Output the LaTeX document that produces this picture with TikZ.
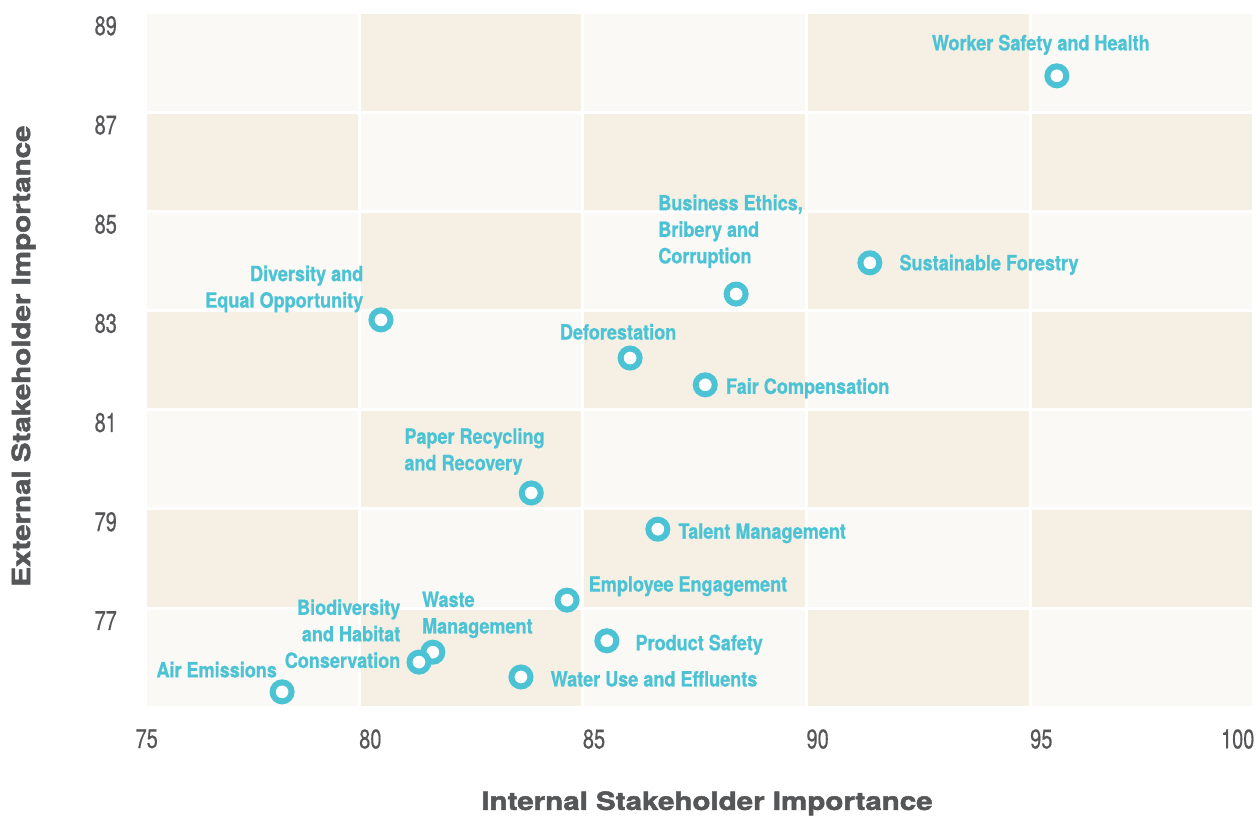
\documentclass[tikz,border=0pt]{standalone}
\usepackage{fontspec}
\setmainfont{TeX Gyre Heros}
\newfontfamily\numfont{TeX Gyre Heros}[FakeStretch=0.74, FakeBold=0.4]
\newfontfamily\tagfont{TeX Gyre Heros}[FakeStretch=0.86, BoldFeatures={FakeBold=0.8}]
\newfontfamily\titlefont{TeX Gyre Heros}[FakeStretch=1.18, BoldFeatures={FakeBold=2}]
\usetikzlibrary{positioning}
\definecolor{sand}{RGB}{245,239,228}
\definecolor{paper}{RGB}{250,249,245}
\definecolor{dotcyan}{RGB}{76,195,213}
\definecolor{axisgrey}{RGB}{85,86,88}

\begin{document}
\begin{tikzpicture}[x=44.73pt, y=49.6pt]

    % styles
    \tikzstyle{issue} = [circle, draw=dotcyan, fill=white, line width=6pt, minimum size=19pt, inner sep=0pt]
    \tikzstyle{issuetext} = [text=dotcyan, font=\tagfont\bfseries\fontsize{21}{26.5}\selectfont, inner sep=0pt, text depth=0pt]
    \tikzstyle{ticknum} = [text=axisgrey, font=\numfont\fontsize{27}{30}\selectfont, inner sep=0pt]
    \tikzstyle{axistitle} = [text=axisgrey, font=\titlefont\bfseries\fontsize{25}{30}\selectfont, inner sep=0pt]

    % page
    \fill [white] (71.974,72.728) rectangle (100.143,89.26);
    \useasboundingbox (71.974,72.728) rectangle (100.143,89.26);

    % checkered plot area
    \begin{scope}
        \clip (75.26,75.04) rectangle (100.02,89);
        \foreach \i in {0,...,4}
            \foreach \j in {0,...,6} {
                \pgfmathtruncatemacro{\odd}{mod(\i+\j,2)}
                \ifnum\odd=1 \def\cellcol{sand}\else \def\cellcol{paper}\fi
                \filldraw [fill=\cellcol, draw=white, line width=3pt]
                    (75+5*\i,75+2*\j) rectangle (80+5*\i,77+2*\j);
            }
    \end{scope}

    % axis numbers
    \foreach \v in {77,79,...,89}
        \node (y\v) [ticknum, anchor=north east, yshift=-3pt] at (74.59,\v) {\v};
    \foreach \v in {75,80,...,95}
        \node (x\v) [ticknum, anchor=north west] at (\v,74.56) {\v};
    \node (x100) [ticknum, anchor=north east] at (100.02,74.56) {100};

    % axis titles
    \node (xtitle) [axistitle, anchor=base] at (87.78,72.93) {Internal Stakeholder Importance};
    \node (ytitle) [axistitle, rotate=90, anchor=base] at (72.645,82.08) {External Stakeholder Importance};

    % issues
    \node (ws) [issue] at (95.60,87.73) {};
    \node (sf) [issue] at (91.42,83.96) {};
    \node (be) [issue] at (88.43,83.33) {};
    \node (dv) [issue] at (80.49,82.81) {};
    \node (df) [issue] at (86.06,82.04) {};
    \node (fc) [issue] at (87.74,81.50) {};
    \node (pr) [issue] at (83.85,79.32) {};
    \node (tm) [issue] at (86.68,78.59) {};
    \node (ee) [issue] at (84.65,77.16) {};
    \node (ps) [issue] at (85.54,76.34) {};
    \node (wu) [issue] at (83.62,75.61) {};
    \node (wm) [issue] at (81.65,76.11) {};
    \node (bd) [issue] at (81.34,75.91) {};
    \node (ae) [issue] at (78.28,75.31) {};

    % issue names
    \node (wsl) [issuetext, above=13pt of ws, anchor=base, xshift=-16pt] {Worker Safety and Health};
    \node (sfl) [issuetext, right=17pt of sf, anchor=base west, yshift=-7.5pt] {Sustainable Forestry};
    \node (bel) [issuetext, align=left, above=18pt of be, anchor=south west, xshift=-78pt] {Business Ethics,\\Bribery and\\Corruption};
    \node (dvl) [issuetext, align=right, left=5pt of dv, anchor=south east, yshift=12pt] {Diversity and\\Equal Opportunity};
    \node (dfl) [issuetext, above=6pt of df, anchor=base, xshift=-12pt] {Deforestation};
    \node (fcl) [issuetext, right=8pt of fc, anchor=base west, yshift=-9pt] {Fair Compensation};
    \node (prl) [issuetext, align=left, above=10pt of pr, anchor=south west, xshift=-127pt] {Paper Recycling\\and Recovery};
    \node (tml) [issuetext, right=8pt of tm, anchor=base west, yshift=-9.5pt] {Talent Management};
    \node (eel) [issuetext, right=9pt of ee, anchor=base west, yshift=8.5pt] {Employee Engagement};
    \node (psl) [issuetext, right=16pt of ps, anchor=base west, yshift=-9.5pt] {Product Safety};
    \node (wul) [issuetext, right=17pt of wu, anchor=base west, yshift=-9.5pt] {Water Use and Effluents};
    \node (wml) [issuetext, align=left, above=6pt of wm, anchor=south west, xshift=-11pt] {Waste\\Management};
    \node (bdl) [issuetext, align=right, left=6pt of bd, anchor=south east, yshift=-6pt] {Biodiversity\\and Habitat\\Conservation};
    \node (ael) [issuetext, above=2pt of ae, anchor=base east, xshift=-5pt] {Air Emissions};

\end{tikzpicture}
\end{document}
